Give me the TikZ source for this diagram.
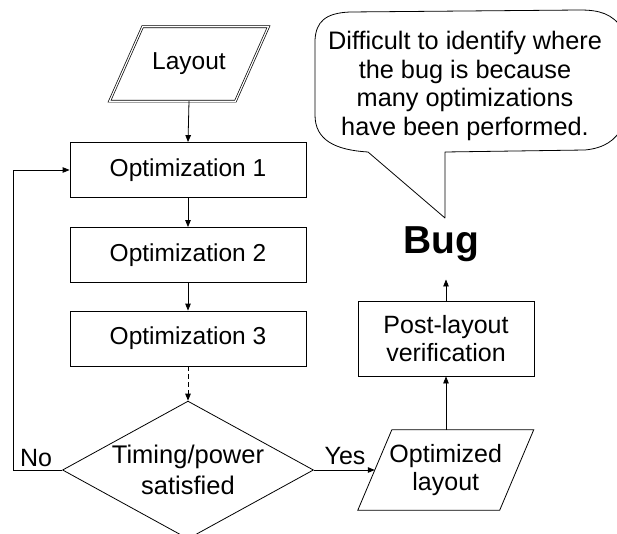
\documentclass[tikz,border=0pt]{standalone}
\usepackage{fontspec}
\setmainfont{Liberation Sans}
\usetikzlibrary{shapes.geometric,arrows.meta}
\begin{document}
\begin{tikzpicture}[x=1pt,y=-1pt,
  font=\fontsize{25}{28.5}\selectfont,
  arr/.style={-{Triangle[length=7pt,width=5.5pt]}, line width=0.8pt},
  box/.style={draw, line width=0.8pt, inner sep=0pt, align=center, minimum width=236pt, minimum height=55pt, font=\fontsize{24.5}{28.5}\selectfont},
  para/.style={inner sep=0pt, align=center},
  edge/.style={line width=0.8pt},
]
\useasboundingbox (0,0) rectangle (617,534);
\clip (0,0) rectangle (617,534);

% Layout (input parallelogram)
\node[para, minimum width=125.5pt, minimum height=74pt, font=\fontsize{24.5}{28.5}\selectfont] (lay) at (189,64) {Layout};
\draw[line width=0.7pt, double, double distance=1.2pt]
  ([xshift=16.5pt]lay.north west) -- ([xshift=16.5pt]lay.north east)
  -- ([xshift=-16.5pt]lay.south east) -- ([xshift=-16.5pt]lay.south west) -- cycle;

% Optimization boxes
\node[box] (o1) at (188,170) {Optimization 1};
\node[box] (o2) at (188,255) {Optimization 2};
\node[box] (o3) at (188,338.5) {Optimization 3};

% Decision
\node[draw, diamond, edge, minimum width=251pt, minimum height=126pt, inner sep=-16pt, align=center, font=\fontsize{25.5}{31}\selectfont] (dec) at (188,470) {Timing/power\\satisfied};

% Optimized layout
\node[para, minimum width=141.5pt, minimum height=80pt] (olay) at (445.75,470) {Optimized\\layout};
\draw[edge]
  ([xshift=17pt]olay.north west) -- ([xshift=17pt]olay.north east)
  -- ([xshift=-17pt]olay.south east) -- ([xshift=-17pt]olay.south west) -- cycle;

% Post-layout verification
\node[draw, edge, inner sep=0pt, align=center, minimum width=176pt, minimum height=75pt] (post) at (446,338.5) {Post-layout\\verification};

% Bug
\node[anchor=base, inner xsep=2pt, inner ysep=18pt, font=\bfseries\fontsize{39}{40}\selectfont] (bug) at (441,253) {Bug};

% Callout
\node[align=center, inner sep=0pt, font=\fontsize{25.3}{28.5}\selectfont] (call) at (465,86) {Difficult to identify where\\the bug is because\\many optimizations\\have been performed.};
\draw[edge, line join=round]
  (368,152) -- (445,218) -- (445,152) -- (585,150)
  .. controls (605,148) and (615,140) .. (622,128)
  -- (622,28)
  .. controls (612,14) and (600,10) .. (580,10)
  -- (350,12)
  .. controls (325,13) and (316,22) .. (315,40)
  -- (315,115)
  .. controls (315,140) and (335,150) .. (368,152);

% Connectors
\draw[arr] (lay.south) -- (o1.north);
\draw[arr] (o1.south) -- (o2.north);
\draw[arr] (o2.south) -- (o3.north);
\draw[arr, dashed, dash pattern=on 5pt off 3pt] (o3.south) -- (dec.north);
\coordinate (lb) at (13,470);
\coordinate (lt) at (13,170);
\draw[arr] (dec.west) -- (lb) -- (lt) -- (o1.west);
\draw[arr] (dec.east) -- (olay.west);
\draw[arr] (olay.north -| post.south) -- (post.south);
\draw[arr] (post.north) -- (post.north |- bug.south);

% Labels
\node (no) at (36,458) {No};
\node (yes) at (345,456) {Yes};
\end{tikzpicture}
\end{document}
